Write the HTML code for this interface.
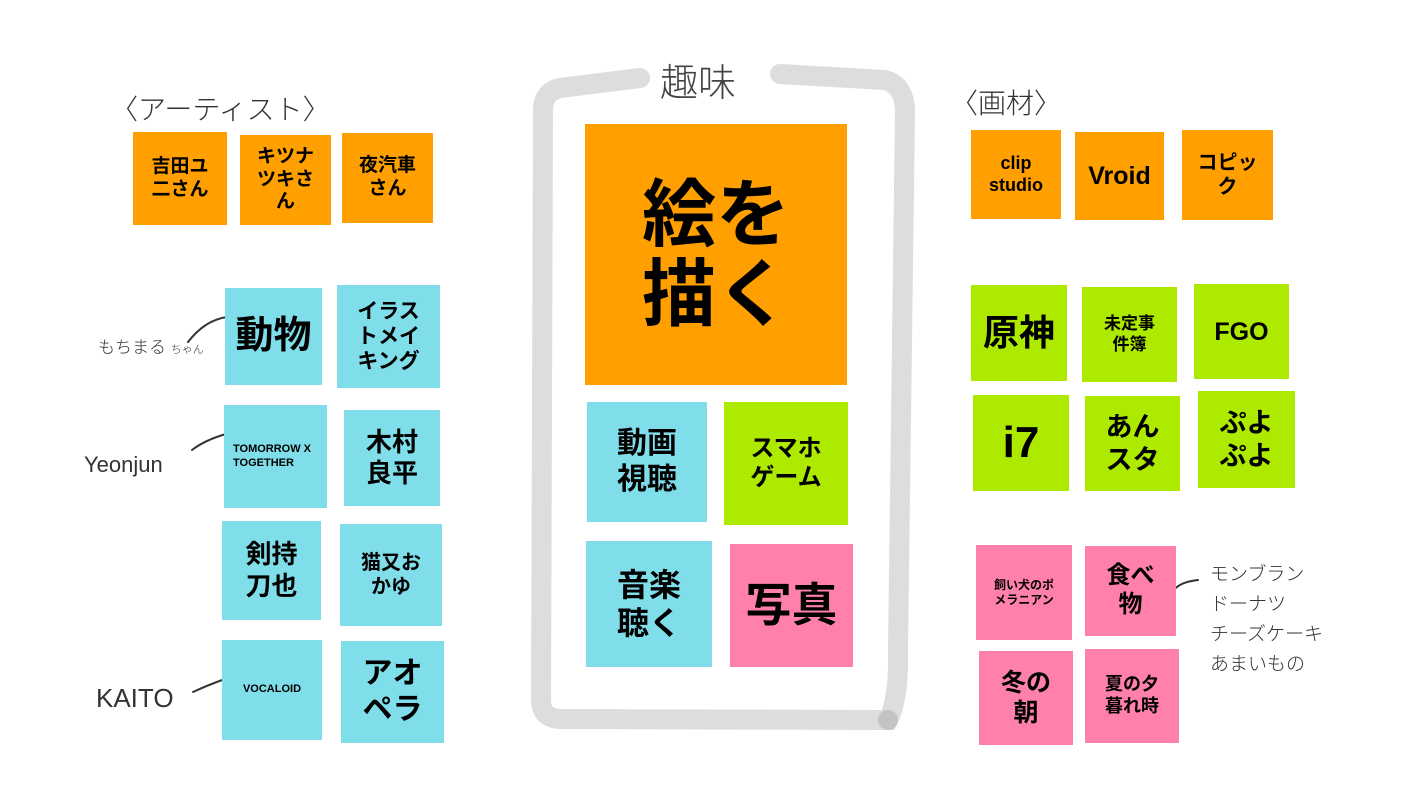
<!DOCTYPE html>
<html><head><meta charset="utf-8"><style>
body{margin:0;width:1422px;height:800px;background:#fff;position:relative;overflow:hidden;font-family:"Liberation Sans","Noto Sans CJK JP",sans-serif}
.n{position:absolute;display:flex;align-items:center;justify-content:center;text-align:center;font-weight:bold;color:#000;line-height:1.2}
.o{background:#FF9F00}.c{background:#80DEEA}.g{background:#AEEA00}.p{background:#FF80AB}
.h{position:absolute;font-family:"Liberation Sans","Noto Sans CJK JP",sans-serif;color:#333;font-weight:300}
</style></head><body>
<svg width="1422" height="800" style="position:absolute;left:0;top:0">
<path d="M640 78 L560 88 Q543 92 543 110 L541 700 Q541 718 560 719 L888 720 Q899 700 898 650 L905 110 Q904 85 885 80 L780 74" fill="none" stroke="#dddddd" stroke-width="20" stroke-linecap="round"/>
<circle cx="888" cy="720" r="10" fill="#c4c4c4"/>
<g fill="none" stroke="#333" stroke-width="2" stroke-linecap="round">
<path d="M188 342 Q205 320 227 317"/>
<path d="M192 450 Q205 440 226 434"/>
<path d="M193 692 Q208 685 225 679"/>
<path d="M1174 590 Q1180 582 1198 580"/>
</g>
</svg>
<div class="h" style="left:660px;top:52px;font-size:38px;color:#444">趣味</div>
<div class="h" style="left:110px;top:88px;font-size:28px">〈アーティスト〉</div>
<div class="h" style="left:950px;top:82px;font-size:28px">〈画材〉</div>
<div class="h" style="left:98px;top:333px;font-size:17px">もちまる <span style="font-size:11px">ちゃん</span></div>
<div class="h" style="left:84px;top:452px;font-size:22px">Yeonjun</div>
<div class="h" style="left:96px;top:683px;font-size:26px">KAITO</div>
<div class="h" style="left:1210px;top:560px;font-size:19px;line-height:30px">モンブラン<br>ドーナツ<br>チーズケーキ<br>あまいもの</div>

<div class="n o" style="left:133px;top:132px;width:94px;height:93px;font-size:19px">吉田ユ<br>二さん</div>
<div class="n o" style="left:240px;top:135px;width:91px;height:90px;font-size:19px">キツナ<br>ツキさ<br>ん</div>
<div class="n o" style="left:342px;top:133px;width:91px;height:90px;font-size:19px">夜汽車<br>さん</div>

<div class="n c" style="left:225px;top:288px;width:97px;height:97px;font-size:38px">動物</div>
<div class="n c" style="left:337px;top:285px;width:103px;height:103px;font-size:21px">イラス<br>トメイ<br>キング</div>
<div class="n c" style="left:224px;top:405px;width:103px;height:103px;font-size:11px;justify-content:flex-start;text-align:left;padding-left:9px;box-sizing:border-box">TOMORROW X<br>TOGETHER</div>
<div class="n c" style="left:344px;top:410px;width:96px;height:96px;font-size:26px">木村<br>良平</div>
<div class="n c" style="left:222px;top:521px;width:99px;height:99px;font-size:26px">剣持<br>刀也</div>
<div class="n c" style="left:340px;top:524px;width:102px;height:102px;font-size:20px">猫又お<br>かゆ</div>
<div class="n c" style="left:222px;top:640px;width:100px;height:100px;font-size:11px">VOCALOID</div>
<div class="n c" style="left:341px;top:641px;width:103px;height:102px;font-size:30px">アオ<br>ペラ</div>

<div class="n o" style="left:585px;top:124px;width:262px;height:261px;font-size:74px;line-height:1.08">絵を<br>描く</div>
<div class="n c" style="left:587px;top:402px;width:120px;height:120px;font-size:30px">動画<br>視聴</div>
<div class="n g" style="left:724px;top:402px;width:124px;height:123px;font-size:24px">スマホ<br>ゲーム</div>
<div class="n c" style="left:586px;top:541px;width:126px;height:126px;font-size:32px">音楽<br>聴く</div>
<div class="n p" style="left:730px;top:544px;width:123px;height:123px;font-size:46px">写真</div>

<div class="n o" style="left:971px;top:130px;width:90px;height:89px;font-size:18px">clip<br>studio</div>
<div class="n o" style="left:1075px;top:132px;width:89px;height:88px;font-size:25px">Vroid</div>
<div class="n o" style="left:1182px;top:130px;width:91px;height:90px;font-size:20px">コピッ<br>ク</div>
<div class="n g" style="left:971px;top:285px;width:96px;height:96px;font-size:36px">原神</div>
<div class="n g" style="left:1082px;top:287px;width:95px;height:95px;font-size:17px">未定事<br>件簿</div>
<div class="n g" style="left:1194px;top:284px;width:95px;height:95px;font-size:25px">FGO</div>
<div class="n g" style="left:973px;top:395px;width:96px;height:96px;font-size:44px">i7</div>
<div class="n g" style="left:1085px;top:396px;width:95px;height:95px;font-size:27px">あん<br>スタ</div>
<div class="n g" style="left:1198px;top:391px;width:97px;height:97px;font-size:27px">ぷよ<br>ぷよ</div>
<div class="n p" style="left:976px;top:545px;width:96px;height:95px;font-size:12px">飼い犬のポ<br>メラニアン</div>
<div class="n p" style="left:1085px;top:546px;width:91px;height:90px;font-size:24px">食べ<br>物</div>
<div class="n p" style="left:979px;top:651px;width:94px;height:94px;font-size:25px">冬の<br>朝</div>
<div class="n p" style="left:1085px;top:649px;width:94px;height:94px;font-size:18px">夏の夕<br>暮れ時</div>
</body></html>
